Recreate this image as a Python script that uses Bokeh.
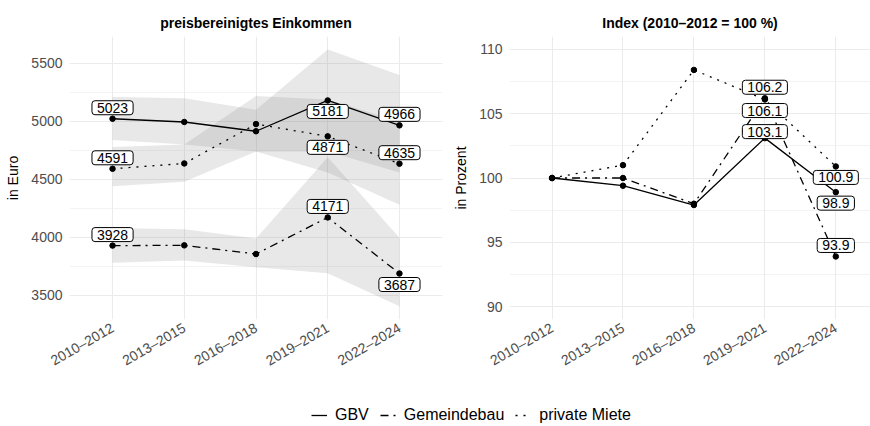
import math
from bokeh.plotting import figure
from bokeh.models import (Range1d, FixedTicker, SingleIntervalTicker, Label,
                          Legend, LegendItem)
from bokeh.layouts import row, column
from bokeh.embed import file_html
from bokeh.resources import INLINE

# ---------------- data ----------------
periods = ["2010–2012", "2013–2015", "2016–2018", "2019–2021", "2022–2024"]
series_names = ["GBV", "Gemeindebau", "private Miete"]

# preisbereinigtes Einkommen (Euro)
gbv_eur = [5023, 4995, 4915, 5181, 4966]
gem_eur = [3928, 3930, 3855, 4171, 3687]
prv_eur = [4591, 4637, 4977, 4871, 4635]

# Konfidenzbänder (Euro)
gbv_lo = [4840, 4800, 4740, 4740, 4560]
gbv_hi = [5210, 5200, 5100, 5620, 5400]
gem_lo = [3780, 3800, 3740, 3690, 3405]
gem_hi = [4080, 4070, 3990, 4690, 3995]
prv_lo = [4440, 4480, 4740, 4560, 4280]
prv_hi = [4780, 4800, 5220, 5190, 5000]

# Index (2010–2012 = 100 %)
gbv_idx = [100.0, 99.4, 97.9, 103.1, 98.9]
gem_idx = [100.0, 100.0, 98.0, 106.2, 93.9]
prv_idx = [100.0, 101.0, 108.4, 106.1, 100.9]

# ---------------- styling / layout ----------------
FONT = "Liberation Sans"
GRID = "#ebebeb"
TICK_COLOR = "#4d4d4d"
DASH = {"GBV": "solid", "Gemeindebau": "8 5 2 5", "private Miete": "2 6"}
LW = 1.3
H_TOP = 386
FRAME_TOP = 36
FRAME_H = 283

# label placement: +1 above point, -1 below point (per series, per labelled period)
left_place = {"GBV": {0: 1, 3: -1, 4: 1},
              "Gemeindebau": {0: 1, 3: 1, 4: -1},
              "private Miete": {0: 1, 3: -1, 4: 1}}
right_place = {"GBV": {3: 1, 4: -1},
               "Gemeindebau": {3: 1, 4: 1},
               "private Miete": {3: -1, 4: -1}}
right_gap = {("GBV", 3): -2.5}

xs = list(range(1, len(periods) + 1))


def style_panel(p, ylabel, interval):
    p.outline_line_color = None
    p.background_fill_color = "white"
    p.border_fill_color = "white"
    p.title.text_font = FONT
    p.title.text_font_size = "14px"
    p.title.text_font_style = "bold"
    p.title.text_color = "black"
    p.title.align = "center"
    p.title.standoff = 11

    xa = p.xaxis[0]
    xa.ticker = FixedTicker(ticks=xs)
    xa.major_label_overrides = {x: lab for x, lab in zip(xs, periods)}
    xa.major_label_orientation = math.pi / 6
    ya = p.yaxis[0]
    ya.ticker = SingleIntervalTicker(interval=interval, num_minor_ticks=2)
    ya.axis_label = ylabel
    for ax in (xa, ya):
        ax.axis_line_color = None
        ax.major_tick_line_color = None
        ax.minor_tick_line_color = None
        ax.major_tick_out = 0
        ax.major_tick_in = 0
        ax.minor_tick_out = 0
        ax.major_label_text_font = FONT
        ax.major_label_text_font_size = "14px"
        ax.major_label_text_color = TICK_COLOR
        ax.major_label_standoff = 7
        ax.axis_label_text_font = FONT
        ax.axis_label_text_font_size = "14px"
        ax.axis_label_text_font_style = "normal"
        ax.axis_label_text_color = "black"
        ax.axis_label_standoff = 7
    p.xgrid.grid_line_color = GRID
    p.xgrid.grid_line_width = 1.1
    p.ygrid.grid_line_color = GRID
    p.ygrid.grid_line_width = 1.1
    p.ygrid.minor_grid_line_color = GRID
    p.ygrid.minor_grid_line_width = 0.6


def add_label(p, x, y, txt, direction, gap=2.0):
    pad_v = 2
    p.add_layout(Label(
        x=x, y=y, text=txt,
        text_font=FONT, text_font_size="14px", text_color="black",
        text_align="center",
        text_baseline="bottom" if direction > 0 else "top",
        y_offset=direction * (gap + pad_v),
        padding=(5, pad_v), border_radius=3,
        background_fill_color="white", background_fill_alpha=1.0,
        border_line_color="black", border_line_width=1,
    ))


# ---------------- left panel ----------------
p1 = figure(width=450, height=H_TOP, title="preisbereinigtes Einkommen",
            x_range=Range1d(0.4, 5.6), y_range=Range1d(3290, 5733),
            output_backend="svg", toolbar_location=None,
            min_border_left=69, min_border_right=8,
            min_border_top=FRAME_TOP, min_border_bottom=H_TOP - FRAME_TOP - FRAME_H)
style_panel(p1, "in Euro", 500)

eur = {"GBV": gbv_eur, "Gemeindebau": gem_eur, "private Miete": prv_eur}
bands = {"GBV": (gbv_lo, gbv_hi), "Gemeindebau": (gem_lo, gem_hi),
         "private Miete": (prv_lo, prv_hi)}
for name in series_names:
    lo, hi = bands[name]
    p1.varea(x=xs, y1=lo, y2=hi, fill_color="#7f7f7f", fill_alpha=0.18)
for name in series_names:
    p1.line(x=xs, y=eur[name], line_color="black", line_width=LW,
            line_dash=DASH[name])
    p1.scatter(x=xs, y=eur[name], size=5.5, color="black")
for name in series_names:
    for i, d in left_place[name].items():
        add_label(p1, xs[i], eur[name][i], f"{eur[name][i]:d}", d)

# ---------------- right panel ----------------
p2 = figure(width=420, height=H_TOP, title="Index (2010–2012 = 100 %)",
            x_range=Range1d(0.4, 5.489), y_range=Range1d(89, 111),
            output_backend="svg", toolbar_location=None,
            min_border_left=55, min_border_right=0,
            min_border_top=FRAME_TOP, min_border_bottom=H_TOP - FRAME_TOP - FRAME_H)
style_panel(p2, "in Prozent", 5)

idx = {"GBV": gbv_idx, "Gemeindebau": gem_idx, "private Miete": prv_idx}
for name in series_names:
    p2.line(x=xs, y=idx[name], line_color="black", line_width=LW,
            line_dash=DASH[name])
    p2.scatter(x=xs, y=idx[name], size=5.5, color="black")
for name in series_names:
    for i, d in right_place[name].items():
        add_label(p2, xs[i], idx[name][i], f"{idx[name][i]:.1f}", d,
                  gap=right_gap.get((name, i), 2.0))

# ---------------- legend ----------------
pl = figure(width=870, height=40, x_range=Range1d(100, 101), y_range=Range1d(0, 1),
            output_backend="svg", toolbar_location=None,
            x_axis_location=None, y_axis_location=None,
            min_border=0)
pl.grid.visible = False
pl.outline_line_color = None
items = []
for name in series_names:
    r = pl.line(x=xs, y=idx[name], line_color="black", line_width=LW,
                line_dash=DASH[name])
    items.append(LegendItem(label=name, renderers=[r]))
legend = Legend(items=items, orientation="horizontal", location=(311, 2),
                padding=0, margin=0, spacing=11, glyph_width=16, glyph_height=16,
                label_standoff=8, label_text_font=FONT, label_text_font_size="16px",
                label_text_color="black", border_line_color=None,
                background_fill_alpha=0)
pl.add_layout(legend)

layout = column(row(p1, p2), pl)
open("out.html", "w").write(file_html(layout, INLINE))
